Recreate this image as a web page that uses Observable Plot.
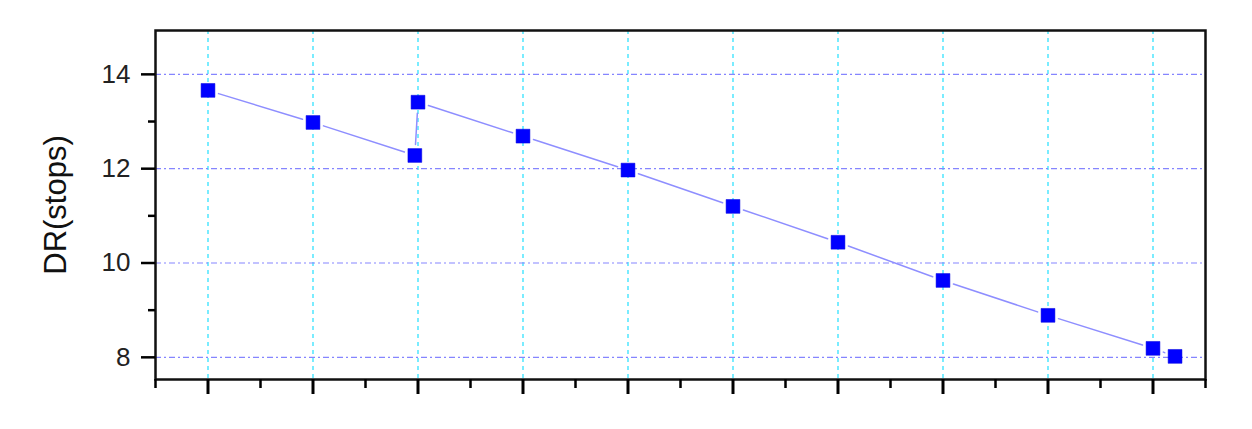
<!DOCTYPE html>
<html>
<head>
<meta charset="utf-8">
<script src="https://cdn.jsdelivr.net/npm/d3@7"></script>
<script src="https://cdn.jsdelivr.net/npm/@observablehq/plot@0.6"></script>
<style>
  html, body { margin: 0; padding: 0; background: #fff; }
  #chart { width: 1252px; height: 429px; }
</style>
</head>
<body>
<div id="chart"></div>
<script>
// Data
const xs = [0, 1, 1.97, 2, 3, 4, 5, 6, 7, 8, 9, 9.21];
const dr = [13.66, 12.98, 12.28, 13.41, 12.69, 11.97, 11.2, 10.44, 9.63, 8.89, 8.19, 8.02];
const yMajorTicks = [8, 10, 12, 14];
const yMinorTicks = [9, 11, 13];
const xMajorTicks = [0, 1, 2, 3, 4, 5, 6, 7, 8, 9];
const xMinorTicks = [-0.5, 0.5, 1.5, 2.5, 3.5, 4.5, 5.5, 6.5, 7.5, 8.5, 9.5];
const yLabel = "DR(stops)";

const points = xs.map((x, i) => ({x, y: dr[i]}));
const segments = points.slice(1).map((p, i) => ({x1: points[i].x, y1: points[i].y, x2: p.x, y2: p.y}));

const chart = Plot.plot({
  width: 1252,
  height: 429,
  marginLeft: 155,
  marginRight: 47,
  marginTop: 30,
  marginBottom: 50,
  style: {fontFamily: "'Liberation Sans', Arial, sans-serif", background: "#fff"},
  x: {domain: [-0.5, 9.5]},
  y: {domain: [7.53, 14.93]},
  marks: [
    Plot.ruleX(xMajorTicks, {stroke: "#22e0ff", strokeWidth: 1.2, strokeDasharray: "4,4"}),
    Plot.ruleY(yMajorTicks, {stroke: "#8585ff", strokeWidth: 1.2, strokeDasharray: "6,3,2,3"}),
    Plot.arrow(segments, {x1: "x1", y1: "y1", x2: "x2", y2: "y2", inset: 11, headLength: 0, stroke: "#8e8eff", strokeWidth: 1.5}),
    Plot.dot(points, {x: "x", y: "y", symbol: "square", r: 7.8, fill: "#0000ff", stroke: "#0000dd", strokeWidth: 0.5}),
    Plot.frame({stroke: "#111", strokeWidth: 2.5}),
    Plot.axisY(yMajorTicks, {anchor: "left", tickSize: 14, tickPadding: 11, strokeWidth: 2.5, fontSize: 26, fill: "#222", label: null}),
    Plot.axisY(yMinorTicks, {anchor: "left", tickSize: 7, strokeWidth: 2.5, tickFormat: () => "", fontSize: 31, fill: "#111",
      label: yLabel, labelAnchor: "center", labelOffset: 112, labelArrow: "none"}),
    Plot.axisX(xMajorTicks, {anchor: "bottom", tickSize: 15, strokeWidth: 3, tickFormat: () => "", label: null}),
    Plot.axisX(xMinorTicks, {anchor: "bottom", tickSize: 9, strokeWidth: 2.5, tickFormat: () => "", label: null})
  ]
});

// remove any direction arrow from the axis title
d3.select(chart).selectAll("text").each(function() {
  if (this.textContent.includes(yLabel)) this.textContent = yLabel;
});
document.getElementById("chart").appendChild(chart);
</script>
</body>
</html>
